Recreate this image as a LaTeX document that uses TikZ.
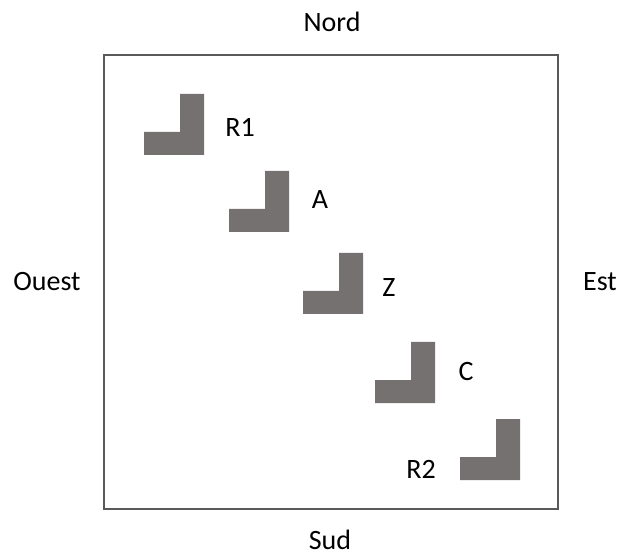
\documentclass[tikz,border=0pt]{standalone}
\usepackage{fontspec}
\setmainfont{Carlito}
\definecolor{lgray}{HTML}{767171}
\definecolor{bordergray}{HTML}{595959}
\tikzset{
  lpiece/.pic={\fill[lgray] (0,38) -- (36,38) -- (36,0) -- (60,0) -- (60,61) -- (0,61) -- cycle;},
  lbl/.style={anchor=base, inner sep=0pt, font=\fontsize{28pt}{33pt}\selectfont},
  frame/.style={draw=bordergray, line width=2.2pt}
}
\begin{document}
\begin{tikzpicture}[x=1pt,y=-1pt]
\useasboundingbox (0,0) rectangle (619,556);
\fill[white] (0,0) rectangle (619,556);
\draw[frame] (104,55) rectangle (558,509);
\pic at (144,94) {lpiece};
\pic at (229,171) {lpiece};
\pic at (303,253) {lpiece};
\pic at (375,342) {lpiece};
\pic at (460,419) {lpiece};
\node[lbl] (nord) at (332,32) {Nord};
\node[lbl] (sud) at (330,549) {Sud};
\node[lbl] (ouest) at (47,291) {Ouest};
\node[lbl] (est) at (600,291) {Est};
\node[lbl] (r1) at (240,137) {R1};
\node[lbl] (a) at (320,209) {A};
\node[lbl] (z) at (389,297) {Z};
\node[lbl] (c) at (466,381) {C};
\node[lbl] (r2) at (421,478) {R2};
\end{tikzpicture}
\end{document}
